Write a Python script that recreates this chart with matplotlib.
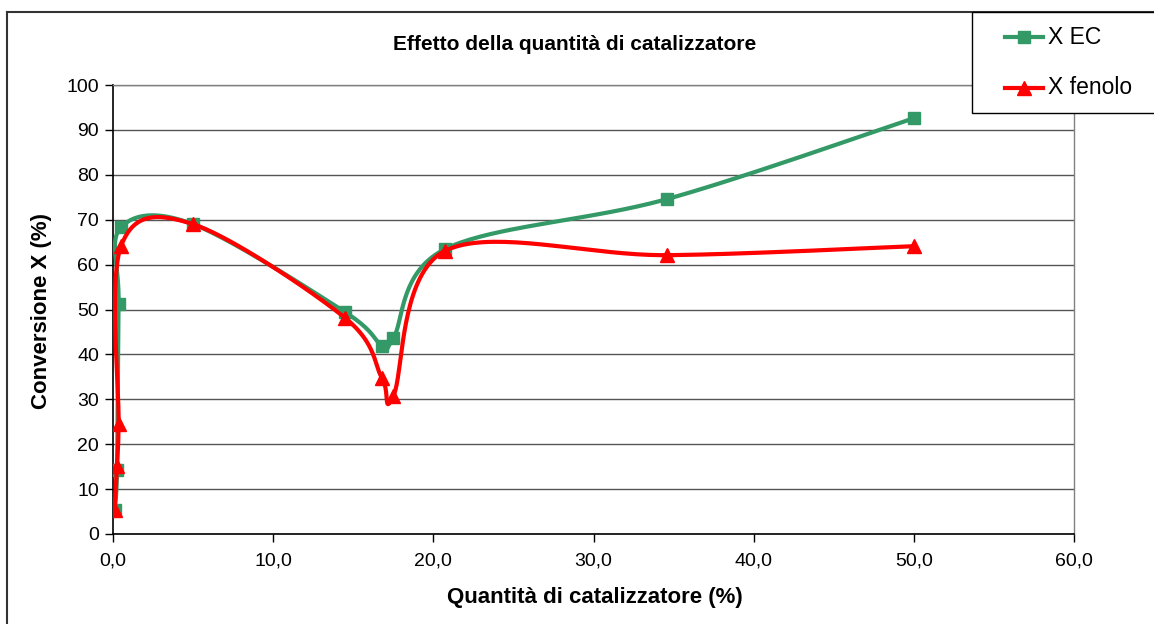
import numpy as np
import matplotlib
matplotlib.use("Agg")
import matplotlib.pyplot as plt
from matplotlib.lines import Line2D
from matplotlib.patches import Rectangle

plt.rcParams['font.family'] = ['Liberation Sans', 'DejaVu Sans']

# Data
catalizzatore_ec = [0.1, 0.25, 0.35, 0.5, 5.0, 14.5, 16.8, 17.5, 20.7, 34.6, 50.0]
x_ec = [5.3, 14.3, 51.3, 68.3, 69.0, 49.4, 41.9, 43.6, 63.4, 74.6, 92.6]

catalizzatore_fen = [0.1, 0.25, 0.35, 0.5, 5.0, 14.5, 16.8, 17.5, 20.7, 34.6, 50.0]
x_fenolo = [5.3, 15.1, 24.5, 64.1, 69.0, 48.1, 34.7, 30.7, 63.0, 62.1, 64.1]

x_ticks = [0, 10, 20, 30, 40, 50, 60]
y_ticks = list(range(0, 101, 10))

GREEN = '#339966'
RED = '#FF0000'

W, H = 1154, 624


def px(x, y):
    # pixel (from top-left) -> figure fraction
    return x / W, 1 - y / H


def excel_smooth(ax, xs, ys, n=40):
    # Excel-style smoothed line: Catmull-Rom bezier in screen space
    pts = ax.transData.transform(np.column_stack([xs, ys]))
    out = [pts[0]]
    t = np.linspace(0, 1, n)[1:, None]
    for i in range(len(pts) - 1):
        p0 = pts[i - 1] if i > 0 else pts[i]
        p1 = pts[i]
        p2 = pts[i + 1]
        p3 = pts[i + 2] if i + 2 < len(pts) else pts[i + 1]
        c1 = p1 + (p2 - p0) / 6
        c2 = p2 - (p3 - p1) / 6
        seg = ((1 - t) ** 3) * p1 + 3 * ((1 - t) ** 2) * t * c1 + 3 * (1 - t) * t ** 2 * c2 + t ** 3 * p2
        out.extend(seg)
    out = ax.transData.inverted().transform(np.array(out))
    return out[:, 0], out[:, 1]


fig = plt.figure(figsize=(W / 100, H / 100), dpi=100)
l, b = px(113, 534)
r, t = px(1074, 85)
ax = fig.add_axes([l, b, r - l, t - b])

ax.set_xlim(0, 60)
ax.set_ylim(0, 100)
ax.set_xticks(x_ticks)
ax.set_xticklabels([f"{v:.1f}".replace('.', ',') for v in x_ticks])
ax.set_yticks(y_ticks)
ax.tick_params(direction='out', length=6, width=1, labelsize=14, colors='black', pad=4)
ax.tick_params(axis='x', pad=7)
ax.yaxis.grid(True, color='#555555', linewidth=1)
ax.set_axisbelow(True)
for s in ['top', 'right']:
    ax.spines[s].set_color('#808080')
    ax.spines[s].set_linewidth(1)
for s in ['left', 'bottom']:
    ax.spines[s].set_color('black')
    ax.spines[s].set_linewidth(1.2)

fig.canvas.draw()

sx, sy = excel_smooth(ax, catalizzatore_ec, x_ec)
ax.plot(sx, sy, color=GREEN, lw=3, solid_capstyle='round', zorder=3)
ax.plot(catalizzatore_ec, x_ec, ls='none', marker='s', ms=8.5, color=GREEN, zorder=4)

sx, sy = excel_smooth(ax, catalizzatore_fen, x_fenolo)
ax.plot(sx, sy, color=RED, lw=3, solid_capstyle='round', zorder=5)
ax.plot(catalizzatore_fen, x_fenolo, ls='none', marker='^', ms=10, color=RED, zorder=6)

# title and axis labels
fig.text(*px(575, 45), "Effetto della quantità di catalizzatore", ha='center', va='center',
         fontsize=15, fontweight='bold')
fig.text(*px(595, 598), "Quantità di catalizzatore (%)", ha='center', va='center',
         fontsize=16, fontweight='bold')
fig.text(*px(42, 311), "Conversione X (%)", ha='center', va='center', rotation=90,
         fontsize=16, fontweight='bold')

# chart border (cut at right/bottom)
fig.add_artist(Line2D([7 / W, 7 / W], [0, 1 - 12 / H], color='#333333', lw=1.5))
fig.add_artist(Line2D([7 / W, 1], [1 - 12 / H, 1 - 12 / H], color='#333333', lw=1.5))

# legend box
lx, ly = px(972, 113)
fig.add_artist(Rectangle((lx, ly), 1 - lx + 0.01, (113 - 12) / H, transform=fig.transFigure,
                         facecolor='white', edgecolor='black', lw=1, zorder=10))
for yy, col, mk, lab in [(37, GREEN, 's', 'X EC'), (88, RED, '^', 'X fenolo')]:
    fig.add_artist(Line2D([1005 / W, 1043 / W], [1 - yy / H] * 2, color=col, lw=3, zorder=11))
    fig.add_artist(Line2D([1024 / W], [1 - yy / H], color=col, marker=mk, ms=8.5 if mk == 's' else 10,
                          ls='none', zorder=12))
    fig.text(1048 / W, 1 - yy / H, lab, ha='left', va='center', fontsize=16.5, zorder=13)

fig.savefig('out.png', dpi=100)
